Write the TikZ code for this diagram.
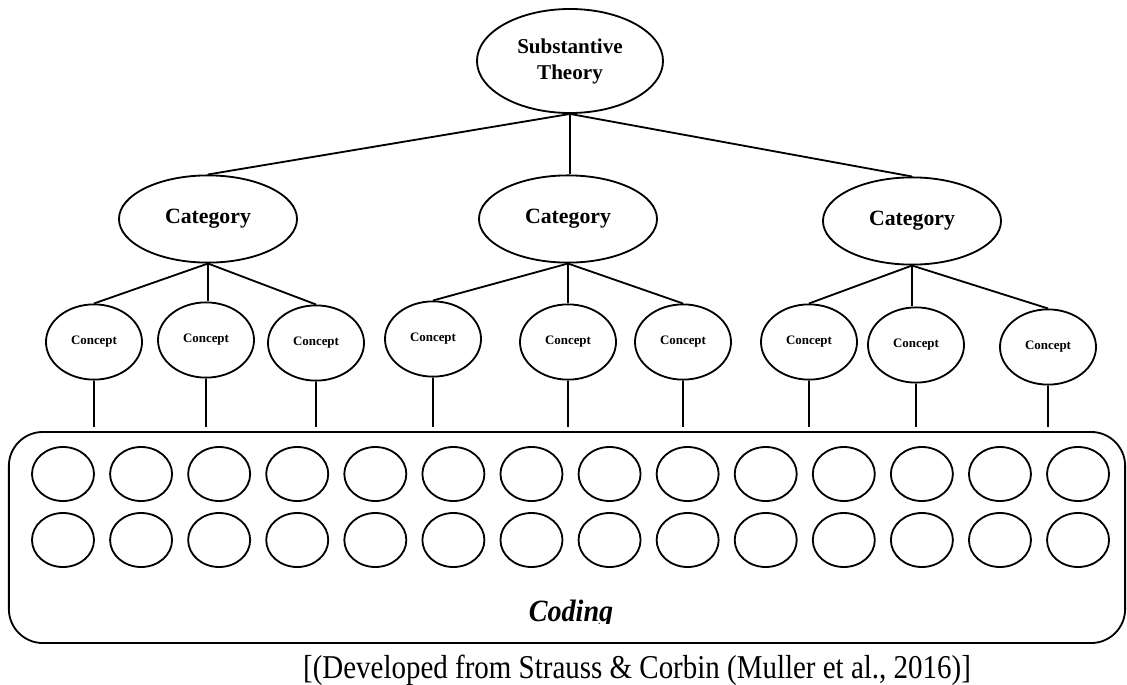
\documentclass[tikz,border=0pt]{standalone}
\usepackage{fontspec}
\setmainfont{Liberation Serif}
\usetikzlibrary{shapes.geometric}

\begin{document}
\begin{tikzpicture}
		[x=0.025cm,y=-0.025cm,line width=1.3pt,
		oval/.style={ellipse,draw,inner sep=0pt},
		theory/.style={oval,minimum width=4.65cm,minimum height=2.6cm,align=center,font=\bfseries\fontsize{15}{18.5}\selectfont},
		category/.style={oval,minimum width=4.45cm,minimum height=2.18cm,font=\bfseries\fontsize{15.5}{18}\selectfont},
		concept/.style={oval,minimum width=2.4cm,minimum height=1.88cm,font=\bfseries\fontsize{9.2}{11}\selectfont},
		code/.style={oval,minimum width=1.55cm,minimum height=1.35cm}]
		\useasboundingbox (0,0) rectangle (1127,685);
		% top of the tree
		\node (Theory) [theory] at (570,61) {Substantive\\Theory};
		\node (CatA) [category] at (208,219) {Category};
		\node (CatB) [category] at (568,219) {Category};
		\node (CatC) [category] at (912,221) {Category};
		\foreach \name/\x/\y in {ConA/94/342,ConB/206/340,ConC/316/343,ConD/433/339,ConE/568/342,ConF/683/342,ConG/809/342,ConH/916/345,ConI/1048/347}
			\node (\name) [concept] at (\x,\y) {Concept};
		\draw (Theory.south) -- (CatA.north);
		\draw (Theory.south) -- (Theory.south |- CatB.north);
		\draw (Theory.south) -- (CatC.north);
		\foreach \cat/\con in {CatA/ConA,CatA/ConC,CatB/ConD,CatB/ConF,CatC/ConG,CatC/ConI}
			\draw (\cat.south) -- (\con.north);
		\foreach \cat/\con in {CatA/ConB,CatB/ConE,CatC/ConH}
			\draw (\cat.south) -- (\cat.south |- \con.north);
		% coding box
		\node (Coding) [rectangle,draw,rounded corners=0.85cm,minimum width=27.9cm,minimum height=5.275cm] at (567,537.5) {};
		\coordinate (Gap) at (0,427);
		\foreach \con in {ConA,ConB,ConC,ConD,ConE,ConF,ConG,ConH,ConI}
			\draw (\con.south) -- (\con.south |- Gap);
		\foreach \i in {0,...,13}{
			\node (CodeA\i) [code] at (63+78.08*\i,474) {};
			\node (CodeB\i) [code] at (63+78.08*\i,540) {};
		}
		\begin{scope}
			\clip (0,0) rectangle (1127,623);
			\node (CodingText) [anchor=base,font=\bfseries\itshape\fontsize{20}{24}\selectfont] at (571,621) {\scalebox{1}[1.1]{Coding}};
		\end{scope}
		\node (Source) [anchor=base,font=\fontsize{20.6}{24}\selectfont] at (637,678) {\scalebox{1}[1.15]{[(Developed from Strauss \& Corbin (Muller et al., 2016)]}};
	\end{tikzpicture}
\end{document}
